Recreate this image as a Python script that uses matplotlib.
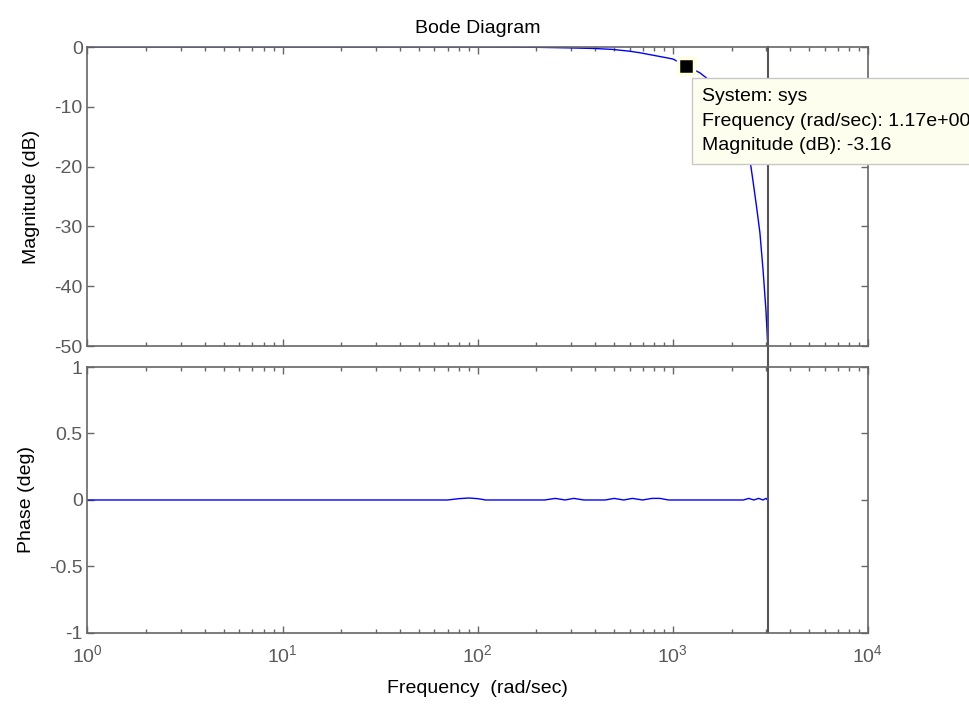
import numpy as np
import matplotlib
matplotlib.use('Agg')
from matplotlib import pyplot as plt
from matplotlib.ticker import LogLocator, NullFormatter, FixedLocator

plt.rcParams['font.family'] = ['Liberation Sans', 'DejaVu Sans']
plt.rcParams['font.size'] = 14
plt.rcParams['mathtext.fontset'] = 'custom'
plt.rcParams['mathtext.rm'] = 'Liberation Sans'

# Magnitude response
mag_freq = [1, 10, 100, 200, 300, 400, 490, 600, 675, 800, 1000, 1170, 1374,
            1600, 1900, 2200, 2400, 2500, 2570, 2680, 2793, 2900, 3000, 3060]
mag_db = [0, 0, 0, -0.05, -0.15, -0.25, -0.4, -0.7, -0.95, -1.4, -2.0, -3.16,
          -4.3, -6.0, -9.5, -14.0, -17.0, -19.5, -22.2, -26.5, -31.0, -37.3,
          -44.0, -49.5]

# Phase response (flat with small wiggles)
phase_freq = [1, 70, 80, 90, 100, 110, 220, 250, 280, 310, 350, 450, 500, 560,
              620, 700, 780, 860, 950, 1050, 2300, 2450, 2600, 2750, 2900, 3000, 3060]
phase_deg = [0, 0, 0.01, 0.015, 0.01, 0, 0, 0.012, 0, 0.012, 0, 0, 0.012, 0,
             0.012, 0, 0.012, 0.012, 0, 0, 0, 0.012, 0, 0.012, 0, 0.012, 0]

nyquist = 3060
tip_freq = 1170
tip_mag = -3.16

axis_col = '#666666'
label_col = '#5a5a5a'


def style_axes(ax):
    ax.set_xscale('log')
    ax.set_xlim(1, 1e4)
    ax.xaxis.set_major_locator(LogLocator(base=10, numticks=10))
    ax.xaxis.set_minor_locator(LogLocator(base=10, subs=np.arange(2, 10), numticks=10))
    ax.xaxis.set_minor_formatter(NullFormatter())
    ax.tick_params(which='both', direction='in', top=True, right=True,
                   colors=axis_col, labelcolor=label_col, labelsize=14)
    ax.tick_params(which='major', length=5, width=1)
    ax.tick_params(which='minor', length=3, width=1)
    for s in ax.spines.values():
        s.set_color(axis_col)
        s.set_linewidth(1.2)


fig = plt.figure(figsize=(9.7, 7.07), dpi=100)
ax1 = fig.add_axes([0.0902, 0.5106, 0.8046, 0.4229])
ax2 = fig.add_axes([0.0902, 0.1047, 0.8046, 0.3762])

# Magnitude
ax1.plot(mag_freq, mag_db, color='#0000ff', lw=1.0)
style_axes(ax1)
ax1.set_ylim(-50, 0)
ax1.yaxis.set_major_locator(FixedLocator([-50, -40, -30, -20, -10, 0]))
ax1.set_yticklabels(['-50', '-40', '-30', '-20', '-10', '0'])
ax1.tick_params(labelbottom=False)
ax1.set_ylabel('Magnitude (dB)', labelpad=10)
ax1.set_title('Bode Diagram', fontsize=14, pad=10)
ax1.axvline(nyquist, ymin=-0.075, ymax=1, color='#555555', lw=1.5, clip_on=False)

# Data tip
ax1.plot([tip_freq], [tip_mag], marker='s', ms=11, color='black',
         markeredgecolor='#fefee0', markeredgewidth=2.5, zorder=5, clip_on=False)
fig.text(702 / 970, 1 - 121 / 707,
         'System: sys\nFrequency (rad/sec): 1.17e+003\nMagnitude (dB): -3.16',
         fontsize=14, ha='left', va='center', linespacing=1.6,
         bbox=dict(boxstyle='square,pad=0.5', facecolor='#fefeee',
                   edgecolor='#c8c8c8', lw=1), zorder=10)

# Phase
ax2.plot(phase_freq, phase_deg, color='#0000ff', lw=1.0)
style_axes(ax2)
ax2.set_ylim(-1, 1)
ax2.yaxis.set_major_locator(FixedLocator([-1, -0.5, 0, 0.5, 1]))
ax2.set_yticklabels(['-1', '-0.5', '0', '0.5', '1'])
ax2.set_ylabel('Phase (deg)', labelpad=10)
ax2.set_xlabel('Frequency  (rad/sec)', labelpad=10)
ax2.tick_params(axis='x', which='major', pad=8)
ax2.axvline(nyquist, color='#555555', lw=1.5)

fig.savefig('out.png', dpi=100)
plt.close(fig)
